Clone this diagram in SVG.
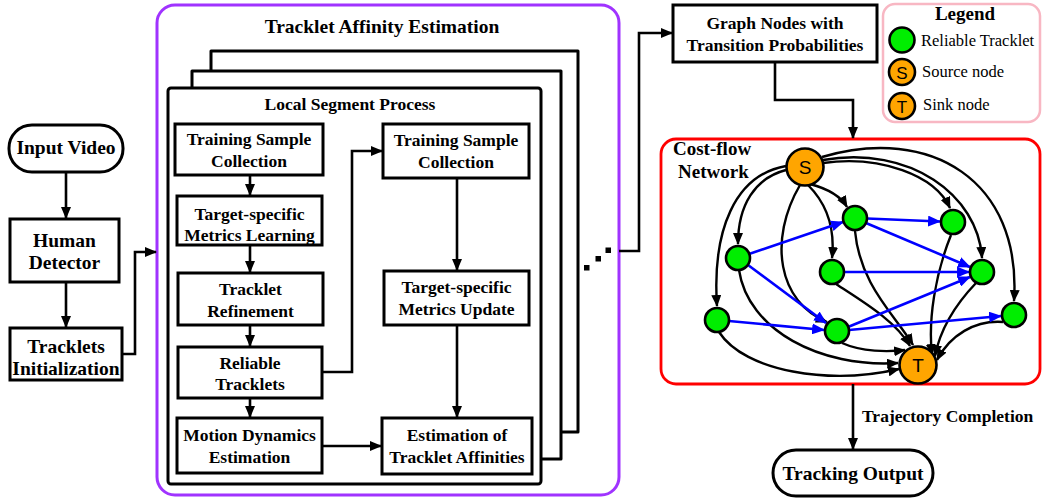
<svg xmlns="http://www.w3.org/2000/svg" width="1043" height="498" viewBox="0 0 1043 498">
<defs>
<style>
.box{fill:#fff;stroke:#000;stroke-width:3}
.frame{fill:none;stroke:#000;stroke-width:3;stroke-linejoin:round}
.t{font-family:"Liberation Serif","Times New Roman",serif;font-weight:bold;font-size:17.5px;fill:#000;text-anchor:middle}
.tl{font-size:19.5px}
.lg{font-family:"Liberation Serif","Times New Roman",serif;font-size:16.5px;fill:#000}
.c{fill:none;stroke:#000;stroke-width:2.6;marker-end:url(#ah)}
.n{fill:none;stroke:#000;stroke-width:2.4;marker-end:url(#ah)}
.b{fill:none;stroke:#0000ff;stroke-width:2.6;marker-end:url(#bh)}
.g{fill:#00ee00;stroke:#000;stroke-width:2.6}
.o{fill:#ffa500;stroke:#000;stroke-width:2.6}
.st{font-family:"Liberation Sans",Arial,sans-serif;font-size:19px;fill:#000;text-anchor:middle}
</style>
<marker id="ah" viewBox="0 0 12 10" refX="11" refY="5" markerWidth="12" markerHeight="10" markerUnits="userSpaceOnUse" orient="auto"><path d="M0,0 L12,5 L0,10 z" fill="#000"/></marker>
<marker id="bh" viewBox="0 0 12 10" refX="11" refY="5" markerWidth="13" markerHeight="11" markerUnits="userSpaceOnUse" orient="auto"><path d="M0,0 L12,5 L0,10 z" fill="#0000ff"/></marker>
</defs>
<rect width="1043" height="498" fill="#fff"/>

<g id="input-video"><rect x="9" y="125" width="114" height="47" rx="23" class="box"/><text x="66" y="154" class="t tl">Input Video</text></g>
<g id="human-detector"><rect x="10" y="219" width="109" height="63" class="box"/><text x="64.5" y="247" class="t tl">Human</text><text x="64.5" y="269" class="t tl">Detector</text></g>
<g id="tracklets-init"><rect x="10" y="328" width="112" height="52" class="box"/><text x="66" y="353" class="t tl">Tracklets</text><text x="66" y="375" class="t tl">Initialization</text></g>

<g id="affinity-frame"><rect x="157" y="5" width="462" height="490" rx="18" fill="none" stroke="#a033ff" stroke-width="3"/><text x="382" y="33" class="t tl">Tracklet Affinity Estimation</text></g>

<g id="stack-frames">
<polyline points="211,71 211,51 578,51 578,432 561,432" class="frame"/>
<polyline points="192,88 192,71 561,71 561,459 532,459" class="frame"/>
</g>
<g id="local-segment"><rect x="168" y="88" width="373" height="396" rx="3" class="box"/><text x="350" y="110" class="t">Local Segment Process</text></g>

<g id="tsc-left"><rect x="175" y="124" width="148" height="51" class="box"/><text x="249" y="145" class="t">Training Sample</text><text x="249" y="167" class="t">Collection</text></g>
<g id="tsml"><rect x="177" y="196" width="145" height="49" class="box"/><text x="249.5" y="220" class="t">Target-specific</text><text x="249.5" y="241" class="t">Metrics Learning</text></g>
<g id="refine"><rect x="178" y="273" width="145" height="52" class="box"/><text x="250.5" y="295" class="t">Tracklet</text><text x="250.5" y="317" class="t">Refinement</text></g>
<g id="reliable"><rect x="178" y="347" width="144" height="51" class="box"/><text x="250" y="369" class="t">Reliable</text><text x="250" y="390" class="t">Tracklets</text></g>
<g id="motion"><rect x="177" y="418" width="145" height="55" class="box"/><text x="249.5" y="441" class="t">Motion Dynamics</text><text x="249.5" y="463" class="t">Estimation</text></g>
<g id="tsc-right"><rect x="383" y="124" width="146" height="54" class="box"/><text x="456" y="146" class="t">Training Sample</text><text x="456" y="168" class="t">Collection</text></g>
<g id="tsmu"><rect x="384" y="271" width="145" height="54" class="box"/><text x="456.5" y="293" class="t">Target-specific</text><text x="456.5" y="315" class="t">Metrics Update</text></g>
<g id="est-aff"><rect x="382" y="418" width="150" height="56" class="box"/><text x="457" y="441" class="t">Estimation of</text><text x="457" y="463" class="t">Tracklet Affinities</text></g>

<g id="dots" fill="#000"><rect x="584" y="265" width="5.5" height="5.5"/><rect x="595.5" y="256" width="5.5" height="5.5"/><rect x="605.5" y="247.5" width="5.5" height="5.5"/></g>

<g id="graph-nodes"><rect x="673" y="5" width="204" height="57" class="box"/><text x="775" y="29" class="t">Graph Nodes with</text><text x="775" y="51" class="t">Transition Probabilities</text></g>

<g id="legend"><rect x="883" y="4" width="157" height="118" rx="12" fill="#fff" stroke="#f8b7c3" stroke-width="2.5"/>
<text x="965" y="20" class="t" style="font-size:19px">Legend</text>
<circle cx="902" cy="40" r="12.5" class="g"/><text x="921" y="46" class="lg">Reliable Tracklet</text>
<circle cx="902" cy="72" r="13" class="o"/><text x="902" y="79" class="st" style="font-size:17px">S</text><text x="922" y="77" class="lg">Source node</text>
<circle cx="902" cy="106" r="13" class="o"/><text x="902" y="113" class="st" style="font-size:17px">T</text><text x="923" y="110" class="lg">Sink node</text>
</g>

<g id="cost-flow"><rect x="661" y="139" width="379" height="245" rx="15" fill="#fff" stroke="#ff0000" stroke-width="2.8"/><text x="673" y="155" class="t tl" style="text-anchor:start;font-size:19px">Cost-flow</text><text x="678" y="178" class="t tl" style="text-anchor:start;font-size:19px">Network</text></g>

<g id="tracking-output"><rect x="773" y="450" width="160" height="46" rx="23" class="box"/><text x="853" y="480" class="t tl">Tracking Output</text></g>

<g id="connectors">
<line x1="66" y1="172" x2="66" y2="218" class="c"/>
<line x1="66" y1="282" x2="66" y2="327" class="c"/>
<polyline points="122,354 135,354 135,252 156,252" class="c"/>
<line x1="250" y1="175" x2="250" y2="195" class="c"/>
<line x1="250" y1="245" x2="250" y2="272" class="c"/>
<line x1="250" y1="325" x2="250" y2="346" class="c"/>
<line x1="250" y1="398" x2="250" y2="417" class="c"/>
<line x1="322" y1="446" x2="381" y2="446" class="c"/>
<polyline points="322,372 352,372 352,151 382,151" class="c"/>
<line x1="457" y1="178" x2="457" y2="270" class="c"/>
<line x1="457" y1="325" x2="457" y2="417" class="c"/>
<polyline points="619,251 639,251 639,33 672,33" class="c"/>
<polyline points="775,62 775,100 853,100 853,138" class="c"/>
<line x1="853" y1="384" x2="853" y2="449" class="c"/>
<text x="862" y="422" class="t" style="text-anchor:start">Trajectory Completion</text>
</g>

<g id="network-edges">
<path d="M786,170 C755,178 738,205 738,244" class="n"/>
<path d="M786,166 C735,175 712,230 717,306" class="n"/>
<path d="M810,184 C825,188 840,195 847,207" class="n"/>
<path d="M808,185 C828,205 835,230 832,258" class="n"/>
<path d="M800,185 C768,240 778,302 827,322" class="n"/>
<path d="M823,163 C880,155 935,175 950,208" class="n"/>
<path d="M823,160 C910,145 978,195 982,258" class="n"/>
<path d="M822,157 C930,125 1022,180 1014,301" class="n"/>
<path d="M739,270 C748,330 820,368 898,363" class="n"/>
<path d="M719,332 C745,372 830,385 899,369" class="n"/>
<path d="M842,343 C862,352 888,352 905,350" class="n"/>
<path d="M836,284 C860,300 895,320 910,346" class="n"/>
<path d="M855,231 C860,285 895,315 913,345" class="n"/>
<path d="M951,235 C935,275 928,320 932,355" class="n"/>
<path d="M976,283 C955,305 940,330 935,356" class="n"/>
<path d="M1003,322 C975,320 950,335 937,360" class="n"/>
<line x1="749" y1="254" x2="843" y2="222" class="b"/>
<line x1="748" y1="265" x2="826" y2="323" class="b"/>
<line x1="867" y1="218.5" x2="940" y2="221.5" class="b"/>
<line x1="866" y1="223" x2="970" y2="267" class="b"/>
<line x1="844" y1="272" x2="969" y2="272" class="b"/>
<line x1="729" y1="321" x2="824" y2="330" class="b"/>
<line x1="848" y1="327" x2="970" y2="277" class="b"/>
<line x1="849" y1="330" x2="1001" y2="316" class="b"/>
</g>

<g id="node-S"><circle cx="805" cy="167" r="18.5" class="o"/><text x="805" y="174" class="st">S</text></g>
<g id="node-T"><circle cx="918" cy="365" r="18.5" class="o"/><text x="918" y="372" class="st">T</text></g>
<g id="node-A"><circle cx="738" cy="258" r="12" class="g"/></g>
<g id="node-B"><circle cx="855" cy="218" r="12" class="g"/></g>
<g id="node-C"><circle cx="953" cy="222" r="12" class="g"/></g>
<g id="node-D"><circle cx="832" cy="272" r="12" class="g"/></g>
<g id="node-E"><circle cx="982" cy="272" r="12" class="g"/></g>
<g id="node-F"><circle cx="717" cy="320" r="12" class="g"/></g>
<g id="node-G"><circle cx="837" cy="331" r="12" class="g"/></g>
<g id="node-H"><circle cx="1014" cy="315" r="12" class="g"/></g>
</svg>
